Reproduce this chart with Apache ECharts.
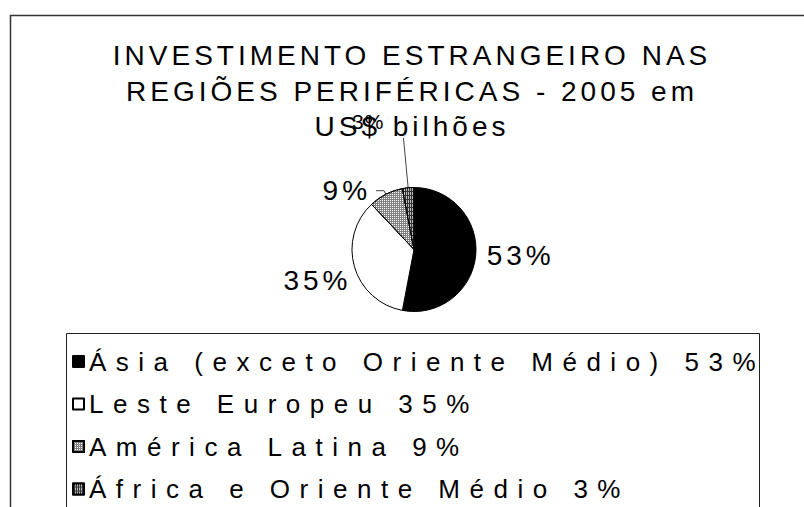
<!DOCTYPE html>
<html>
<head>
<meta charset="utf-8">
<title>Investimento estrangeiro nas regiões periféricas - 2005</title>
<script src="https://cdn.jsdelivr.net/npm/echarts@6/dist/echarts.min.js"></script>
<style>
  html, body { margin: 0; padding: 0; background: #fff; }
  #chart { width: 804px; height: 507px; }
  /* espaçamento entre letras, como no original */
  #chart text[style*="28px"] { letter-spacing: 4px; }
  #chart text[style*="26px"] { letter-spacing: 9.5px; }
  #chart text[style*="21px"] { letter-spacing: 1px; }
</style>
</head>
<body>
<div id="chart"></div>
<script>
  var regioes = ['Ásia (exceto Oriente Médio)', 'Leste Europeu', 'América Latina', 'África e Oriente Médio']
  var percentuais = [53, 35, 9, 3]
  var titulo = 'INVESTIMENTO ESTRANGEIRO NAS\nREGIÕES PERIFÉRICAS - 2005 em\nUS$ bilhões'

  var fonte = '"Liberation Sans", Arial, sans-serif'

  // cor e trama de cada fatia
  var estilos = [
    { color: '#000000' },
    { color: '#ffffff' },
    { color: '#808080', decal: { symbol: 'rect', symbolSize: 1, color: '#ffffff', dashArrayX: [1, 1], dashArrayY: [1, 1] } },
    { color: '#333333', decal: { symbol: 'rect', symbolSize: 1, color: '#bbbbbb', dashArrayX: [1, 1], dashArrayY: [3, 1] } }
  ]
  // posição dos rótulos
  var rotulos = [
    { label: { distanceToLabelLine: 5 }, labelLine: { show: false, length: 3, length2: 3 } },
    { label: { distanceToLabelLine: 3 }, labelLine: { show: false, length: 0, length2: 0 } },
    { label: { distanceToLabelLine: 5 }, labelLine: { show: true, length: 4, length2: 8 } },
    { label: { distanceToLabelLine: 5, fontSize: 21, padding: [0, 14, 0, 0] }, labelLine: { show: true, length: 50, length2: 0 } }
  ]
  var deslocY = [0, 14, 0, -16]

  var chart = echarts.init(document.getElementById('chart'), null, { renderer: 'svg' })

  var dados = regioes.map(function (nome, i) {
    return {
      name: nome,
      value: percentuais[i],
      itemStyle: estilos[i],
      label: rotulos[i].label,
      labelLine: rotulos[i].labelLine
    }
  })

  var option = {
    animation: false,
    backgroundColor: '#ffffff',
    title: {
      text: titulo,
      left: 412,
      textAlign: 'center',
      top: 33,
      padding: [5, 0, 5, 0],
      textStyle: {
        fontSize: 28,
        fontWeight: 'normal',
        color: '#000',
        lineHeight: 35.5,
        fontFamily: fonte
      }
    },
    legend: {
      orient: 'vertical',
      left: 72,
      top: 348.5,
      padding: 0,
      itemWidth: 11,
      itemHeight: 11,
      itemGap: 16.5,
      icon: 'rect',
      selectedMode: false,
      data: regioes,
      formatter: function (nome) {
        return nome + ' ' + percentuais[regioes.indexOf(nome)] + '%'
      },
      textStyle: { fontSize: 26, color: '#000', fontFamily: fonte }
    },
    graphic: [
      {
        type: 'rect',
        silent: true,
        z: -10,
        shape: { x: 10.5, y: 15.5, width: 850, height: 560 },
        style: { fill: 'none', stroke: '#333', lineWidth: 1.5 }
      },
      {
        type: 'rect',
        silent: true,
        z: -10,
        shape: { x: 66.5, y: 333.5, width: 693, height: 220 },
        style: { fill: 'none', stroke: '#222', lineWidth: 1 }
      }
    ],
    series: [
      {
        type: 'pie',
        center: [414, 249.5],
        radius: 62,
        startAngle: 90,
        clockwise: true,
        avoidLabelOverlap: false,
        emphasis: { disabled: true },
        itemStyle: { borderColor: '#000', borderWidth: 1 },
        label: {
          show: true,
          position: 'outside',
          formatter: '{d}%',
          fontSize: 28,
          color: '#000',
          fontFamily: fonte
        },
        labelLine: {
          lineStyle: { color: '#444', width: 1 }
        },
        labelLayout: function (p) {
          return { dy: deslocY[p.dataIndex] }
        },
        data: dados
      }
    ]
  }

  chart.setOption(option)
</script>
</body>
</html>
